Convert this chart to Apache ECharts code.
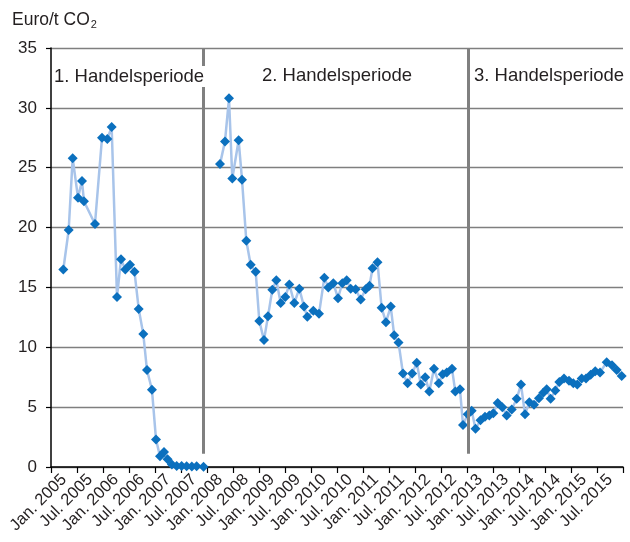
<!DOCTYPE html>
<html>
<head>
<meta charset="utf-8">
<script src="https://cdn.jsdelivr.net/npm/echarts@6/dist/echarts.min.js"></script>
<style>
html,body{margin:0;padding:0;background:#fff;}
#chart{width:630px;height:542px;}
</style>
</head>
<body>
<div id="chart"></div>
<script>
// Tick labels (half-year bands)
const halfYearLabels = [
  'Jan. 2005','Jul. 2005','Jan. 2006','Jul. 2006','Jan. 2007','Jul. 2007',
  'Jan. 2008','Jul. 2008','Jan. 2009','Jul. 2009','Jan. 2010','Jul. 2010',
  'Jan. 2011','Jul. 2011','Jan. 2012','Jul. 2012','Jan. 2013','Jul. 2013',
  'Jan. 2014','Jul. 2014','Jan. 2015','Jul. 2015'
];
// Time of each observation, in months since Jan. 2005
const months = [
  2.84, 4.08, 5.0, 6.23, 7.15, 7.6, 10.15, 11.77, 13.0, 14.0,
  15.23, 16.15, 17.15, 18.23, 19.27, 20.24, 21.3, 22.15, 23.3, 24.23,
  25.15, 26.08, 26.9, 27.9, 29.0, 30.15, 31.3, 32.5, 33.6, 35.2,
  37.0,
  39.0, 40.15, 41.08, 41.84, 43.3, 44.08, 45.07, 46.08, 47.24, 48.07,
  49.15, 50.08, 51.07, 52.0, 53.0, 54.07, 55.0, 56.15, 57.3, 58.38,
  59.15, 60.53, 61.85, 63.07, 64.0, 65.15, 66.23, 67.22, 68.24, 69.16,
  70.3, 71.47, 72.62, 73.5, 74.2, 75.35, 76.3, 77.3, 78.4, 79.2,
  80.2, 81.23, 82.3, 83.35, 84.4, 85.34, 86.35, 87.3, 88.38, 89.5,
  90.4, 91.34, 92.54, 93.3, 94.38, 95.08, 96.16, 97.08, 97.96, 99.12,
  100.15, 101.15, 102.07, 103.08, 104.15, 105.16, 106.32, 107.47, 108.46, 109.38,
  110.38, 111.46, 112.6, 113.6, 114.39, 115.3, 116.38, 117.3, 118.38, 119.54,
  120.53, 121.45, 122.47, 123.46, 124.55, 125.6, 126.7, 128.24, 129.46, 130.55,
  131.7
];
// CO2 price, Euro/t (null = gap between trading periods)
const prices = [
  16.5, 19.8, 25.8, 22.5, 23.9, 22.2, 20.3, 27.5, 27.4, 28.4,
  14.2, 17.35, 16.5, 16.9, 16.3, 13.2, 11.1, 8.1, 6.45, 2.3,
  0.9, 1.25, 0.65, 0.2, 0.08, 0.08, 0.07, 0.05, 0.06, 0.03,
  null,
  25.3, 27.2, 30.8, 24.1, 27.3, 24.0, 18.9, 16.9, 16.3, 12.2,
  10.6, 12.6, 14.8, 15.6, 13.7, 14.2, 15.25, 13.7, 14.9, 13.4,
  12.55, 13.05, 12.8, 15.8, 15.0, 15.35, 14.1, 15.35, 15.6, 14.9,
  14.85, 14.0, 14.85, 15.15, 16.6, 17.1, 13.3, 12.1, 13.4, 11.0,
  10.4, 7.8, 7.0, 7.8, 8.7, 6.9, 7.5, 6.3, 8.2, 7.0,
  7.75, 7.9, 8.2, 6.3, 6.5, 3.5, 4.4, 4.7, 3.2, 3.9,
  4.2, 4.3, 4.5, 5.35, 5.0, 4.3, 4.8, 5.7, 6.9, 4.4,
  5.4, 5.2, 5.75, 6.2, 6.5, 5.7, 6.4, 7.1, 7.4, 7.2,
  7.0, 6.9, 7.4, 7.4, 7.7, 8.0, 7.9, 8.75, 8.5, 8.1,
  7.6
];
// Trading period boundaries (months since Jan. 2005) and their line bottoms (Euro/t)
const periodBreaks = [35.1, 96.4];
const periodLineBottom = [1.1, 1.1];
const periodNames = ['1. Handelsperiode', '2. Handelsperiode', '3. Handelsperiode'];

const totalMonths = halfYearLabels.length * 6;
const seriesData = months.map((m, i) => [m, prices[i] === null ? '-' : prices[i]]);

const TXT = '#231f20';
const FONT = '"Liberation Sans", Arial, Helvetica, sans-serif';

const chart = echarts.init(document.getElementById('chart'), null, {renderer: 'canvas'});
chart.setOption({
  animation: false,
  backgroundColor: '#fff',
  textStyle: {fontFamily: FONT, color: TXT},
  grid: {left: 51, right: 7, top: 48, bottom: 75, containLabel: false},
  xAxis: [
    {
      type: 'category',
      data: halfYearLabels,
      boundaryGap: true,
      axisLine: {show: true, lineStyle: {color: '#000', width: 1.5}},
      axisTick: {show: true, length: 6, interval: 0, lineStyle: {color: '#000', width: 1.2}},
      axisLabel: {interval: 0, rotate: 45, fontSize: 16.5, color: TXT, fontFamily: FONT, margin: 10},
      splitLine: {show: false}
    },
    {
      type: 'value',
      min: 0,
      max: totalMonths,
      show: false
    }
  ],
  yAxis: {
    type: 'value',
    min: 0,
    max: 35,
    interval: 5,
    axisLine: {show: true, lineStyle: {color: '#000', width: 1.5}},
    axisTick: {show: true, length: 5, lineStyle: {color: '#000', width: 1.2}},
    axisLabel: {fontSize: 17, color: TXT, fontFamily: FONT, margin: 14},
    splitLine: {show: true, lineStyle: {color: '#7f7f7f', width: 1.3}}
  },
  series: [
    {
      type: 'line',
      xAxisIndex: 1,
      data: seriesData,
      connectNulls: false,
      symbol: 'diamond',
      symbolSize: 10,
      itemStyle: {color: '#0b70be'},
      lineStyle: {color: '#a8c4ea', width: 2.5},
      z: 3,
      markLine: {
        silent: true,
        symbol: 'none',
        animation: false,
        label: {show: false},
        lineStyle: {color: '#808080', width: 3, type: 'solid'},
        data: periodBreaks.map((b, i) => [
          {coord: [b, 35]},
          {coord: [b, periodLineBottom[i]]}
        ])
      }
    }
  ],
  graphic: [
    {
      type: 'text', left: 12, top: 11, z: 100,
      style: {
        text: 'Euro/t CO{sub|2}',
        font: '17.5px ' + FONT,
        fill: TXT,
        rich: {sub: {fontSize: 11, fontFamily: FONT, fill: TXT, padding: [10, 0, 0, 1]}}
      }
    },
    {
      type: 'text', left: 53, top: 66, z: 100,
      style: {text: periodNames[0], font: '18.5px ' + FONT, fill: TXT, backgroundColor: '#fff', padding: [1, 1, 1, 1]}
    },
    {
      type: 'text', left: 262, top: 66, z: 100,
      style: {text: periodNames[1], font: '18.5px ' + FONT, fill: TXT}
    },
    {
      type: 'text', left: 474, top: 66, z: 100,
      style: {text: periodNames[2], font: '18.5px ' + FONT, fill: TXT}
    }
  ]
});
</script>
</body>
</html>
